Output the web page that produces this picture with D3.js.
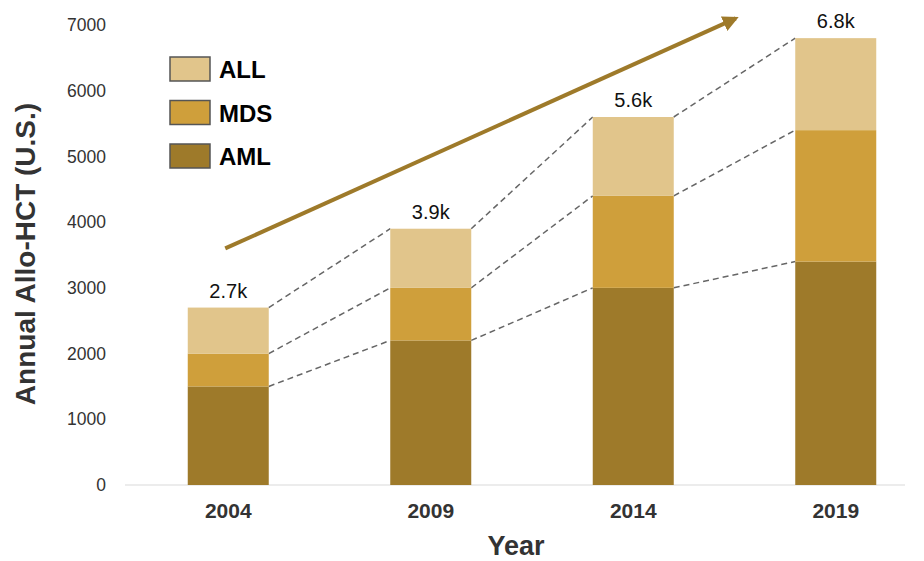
<!DOCTYPE html>
<html><head><meta charset="utf-8">
<script src="https://cdn.jsdelivr.net/npm/d3@7/dist/d3.min.js"></script>
<style>body{margin:0;background:#fff}svg{display:block}</style>
</head><body>
<svg id="chart" width="924" height="561"></svg>
<script>
const years = ["2004", "2009", "2014", "2019"];
const series = ["AML", "MDS", "ALL"];
const aml = [1500, 2200, 3000, 3400];
const mds = [500, 800, 1400, 2000];
const all = [700, 900, 1200, 1400];
const totalLabels = ["2.7k", "3.9k", "5.6k", "6.8k"];
const yTicks = [0, 1000, 2000, 3000, 4000, 5000, 6000, 7000];
const legendOrder = ["ALL", "MDS", "AML"];
const colors = {ALL: "#e1c58b", MDS: "#cf9f3b", AML: "#9e7a2a"};
const FONT = "Liberation Sans, Arial, sans-serif";

const svg = d3.select("#chart");
const x = d3.scaleBand().domain(years).range([127, 937]).paddingInner(0.6).paddingOuter(0.3);
const y = d3.scaleLinear().domain([0, 7000]).range([485, 25]);

const rows = years.map((yr, i) => ({year: yr, AML: aml[i], MDS: mds[i], ALL: all[i]}));
const stack = d3.stack().keys(series)(rows);

// baseline
svg.append("line").attr("x1", 125).attr("x2", 905).attr("y1", y(0)).attr("y2", y(0))
  .attr("stroke", "#d9d9d9").attr("stroke-width", 1);

// y axis
const yAxis = d3.axisLeft(y).tickValues(yTicks).tickSize(0).tickPadding(0).tickFormat(d3.format("d"));
const yg = svg.append("g").attr("transform", "translate(106,0)").call(yAxis);
yg.select(".domain").remove();
yg.selectAll("text").attr("font-family", FONT).attr("font-size", 17.5).attr("fill", "#333");

// x axis
const xAxis = d3.axisBottom(x).tickSize(0).tickPadding(0);
const xg = svg.append("g").attr("transform", "translate(0,503)").call(xAxis);
xg.select(".domain").remove();
xg.selectAll("text").attr("font-family", FONT).attr("font-size", 21)
  .attr("font-weight", "bold").attr("fill", "#333");

// dashed connectors
stack.forEach(layer => {
  for (let i = 0; i < years.length - 1; i++) {
    svg.append("line")
      .attr("x1", x(years[i]) + x.bandwidth()).attr("y1", y(layer[i][1]))
      .attr("x2", x(years[i + 1])).attr("y2", y(layer[i + 1][1]))
      .attr("stroke", "#666").attr("stroke-width", 1.5).attr("stroke-dasharray", "6,4");
  }
});

// bars
svg.append("g").selectAll("g").data(stack).join("g")
  .attr("fill", d => colors[d.key])
  .selectAll("rect").data(d => d).join("rect")
  .attr("x", d => x(d.data.year)).attr("width", x.bandwidth())
  .attr("y", d => y(d[1])).attr("height", d => y(d[0]) - y(d[1]));

// total labels
const topLayer = stack[stack.length - 1];
svg.append("g").selectAll("text").data(topLayer).join("text")
  .attr("x", d => x(d.data.year) + x.bandwidth() / 2).attr("y", d => y(d[1]) - 10)
  .attr("text-anchor", "middle").attr("font-family", FONT)
  .attr("font-size", 20).attr("fill", "#111").text((d, i) => totalLabels[i]);

// trend arrow
const defs = svg.append("defs");
defs.append("marker").attr("id", "ah").attr("viewBox", "0 0 10 10").attr("refX", 8).attr("refY", 5)
  .attr("markerWidth", 4).attr("markerHeight", 4).attr("orient", "auto")
  .append("path").attr("d", "M0,0 L10,5 L0,10 Z").attr("fill", "#9e7a2a");
const arrowStart = [x(years[0]) + x.bandwidth() / 2 - 3, y(3600)];
const arrowEnd = [x(years[2]) + x.bandwidth() + 62, y(7100)];
svg.append("line").attr("x1", arrowStart[0]).attr("y1", arrowStart[1])
  .attr("x2", arrowEnd[0]).attr("y2", arrowEnd[1])
  .attr("stroke", "#9e7a2a").attr("stroke-width", 4).attr("marker-end", "url(#ah)");

// legend
const lg = svg.append("g");
legendOrder.forEach((k, i) => {
  const yy = 57 + i * 43.5;
  lg.append("rect").attr("x", 170).attr("y", yy).attr("width", 40).attr("height", 24)
    .attr("fill", colors[k]).attr("stroke", "#555").attr("stroke-width", 1.5);
  lg.append("text").attr("x", 219).attr("y", yy + 21).attr("font-family", FONT)
    .attr("font-size", 24).attr("font-weight", "bold").attr("fill", "#000").text(k);
});

// axis titles
svg.append("text").attr("transform", "translate(35,254) rotate(-90)").attr("text-anchor", "middle")
  .attr("font-family", FONT).attr("font-size", 28).attr("font-weight", "bold")
  .attr("fill", "#333").text("Annual Allo-HCT (U.S.)");
svg.append("text").attr("x", 516).attr("y", 555).attr("text-anchor", "middle")
  .attr("font-family", FONT).attr("font-size", 27).attr("font-weight", "bold")
  .attr("fill", "#333").text("Year");
</script>
</body></html>
